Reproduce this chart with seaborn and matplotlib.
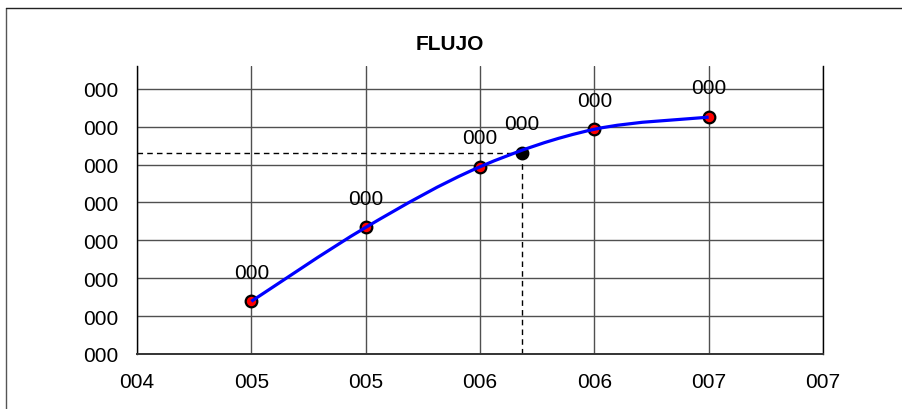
import numpy as np
import pandas as pd
import seaborn as sns
import matplotlib
matplotlib.use("Agg")
import matplotlib.pyplot as plt
from matplotlib.path import Path
from matplotlib.patches import PathPatch
from matplotlib.lines import Line2D

# ---- data ----
title = "FLUJO"
x_ticks = [0.0040, 0.0045, 0.0050, 0.0055, 0.0060, 0.0065, 0.0070]
x_tick_labels = ["004", "005", "005", "006", "006", "007", "007"]
y_ticks = [0, 1, 2, 3, 4, 5, 6, 7]
y_tick_labels = ["000"] * 8
y_max = 7.6

flow_x = [0.0045, 0.0050, 0.0055, 0.0060, 0.0065]
flow_y = [1.39, 3.34, 4.94, 5.93, 6.25]
flow_labels = ["000", "000", "000", "000", "000"]

op_x = [0.005683]
op_y = [5.30]
op_labels = ["000"]

sns.set_style("white")
plt.rcParams['font.family'] = ['Liberation Sans', 'DejaVu Sans']

fig = plt.figure(figsize=(9.03, 4.10), dpi=100)
ax = fig.add_axes([137/903, 1-355/410, (823-137)/903, (355-67)/410])

# outer chart border (top and left visible)
fig.add_artist(Line2D([6.5/903, 6.5/903], [0, 1-8.5/410], transform=fig.transFigure,
                      color='#555555', linewidth=1.0))
fig.add_artist(Line2D([6.5/903, 1], [1-8.5/410, 1-8.5/410], transform=fig.transFigure,
                      color='#222222', linewidth=1.0))

ax.set_xlim(x_ticks[0], x_ticks[-1])
ax.set_ylim(0, y_max)
ax.set_xticks(x_ticks)
ax.set_xticklabels(x_tick_labels)
ax.set_yticks(y_ticks)
ax.set_yticklabels(y_tick_labels)
ax.grid(True, color='#505050', linewidth=1.0)
ax.set_axisbelow(True)
ax.spines['top'].set_visible(False)
for s in ['left', 'bottom', 'right']:
    ax.spines[s].set_color('black')
    ax.spines[s].set_linewidth(1.0)
ax.spines['bottom'].set_color('#333333')
ax.spines['bottom'].set_linewidth(1.4)
ax.tick_params(axis='both', length=4.2, width=1, color='black', labelsize=15, colors='black')
ax.tick_params(axis='y', pad=9.5)
ax.tick_params(axis='x', pad=8.5)

# smooth line through data points (Catmull-Rom as cubic Bezier path)
pts = np.column_stack([flow_x, flow_y])
verts = [tuple(pts[0])]
codes = [Path.MOVETO]
n = len(pts)
for i in range(n - 1):
    p0 = pts[i - 1] if i > 0 else pts[i]
    p1 = pts[i]
    p2 = pts[i + 1]
    p3 = pts[i + 2] if i + 2 < n else pts[i + 1]
    c1 = p1 + (p2 - p0) / 6
    c2 = p2 - (p3 - p1) / 6
    verts += [tuple(c1), tuple(c2), tuple(p2)]
    codes += [Path.CURVE4] * 3

# dashed reference lines to operating point
ax.plot([x_ticks[0], op_x[0]], [op_y[0], op_y[0]], color='black', linewidth=1,
        linestyle=(0, (4, 3)), zorder=2.5)
ax.plot([op_x[0], op_x[0]], [0, op_y[0]], color='black', linewidth=1,
        linestyle=(0, (4, 3)), zorder=2.5)

df = pd.DataFrame({'x': flow_x, 'y': flow_y})
sns.scatterplot(data=df, x='x', y='y', ax=ax, s=70, color='#FF0000', edgecolor='black',
                linewidth=1.6, zorder=3, legend=False)
dfo = pd.DataFrame({'x': op_x, 'y': op_y})
sns.scatterplot(data=dfo, x='x', y='y', ax=ax, s=70, color='black', edgecolor='black',
                linewidth=1.6, zorder=3, legend=False)
ax.add_patch(PathPatch(Path(verts, codes), facecolor='none', edgecolor='#0000FF',
                       linewidth=2.3, zorder=4))
ax.set_xlabel('')
ax.set_ylabel('')

for xv, yv, lab in list(zip(flow_x, flow_y, flow_labels)) + list(zip(op_x, op_y, op_labels)):
    ax.annotate(lab, (xv, yv), xytext=(0, 21), textcoords='offset points',
                ha='center', va='center', fontsize=15, color='black', zorder=5)

fig.text(450/903, 1-44/410, title, ha='center', va='center', fontsize=15,
         fontweight='bold', color='black')

fig.savefig('out.png', dpi=100)
